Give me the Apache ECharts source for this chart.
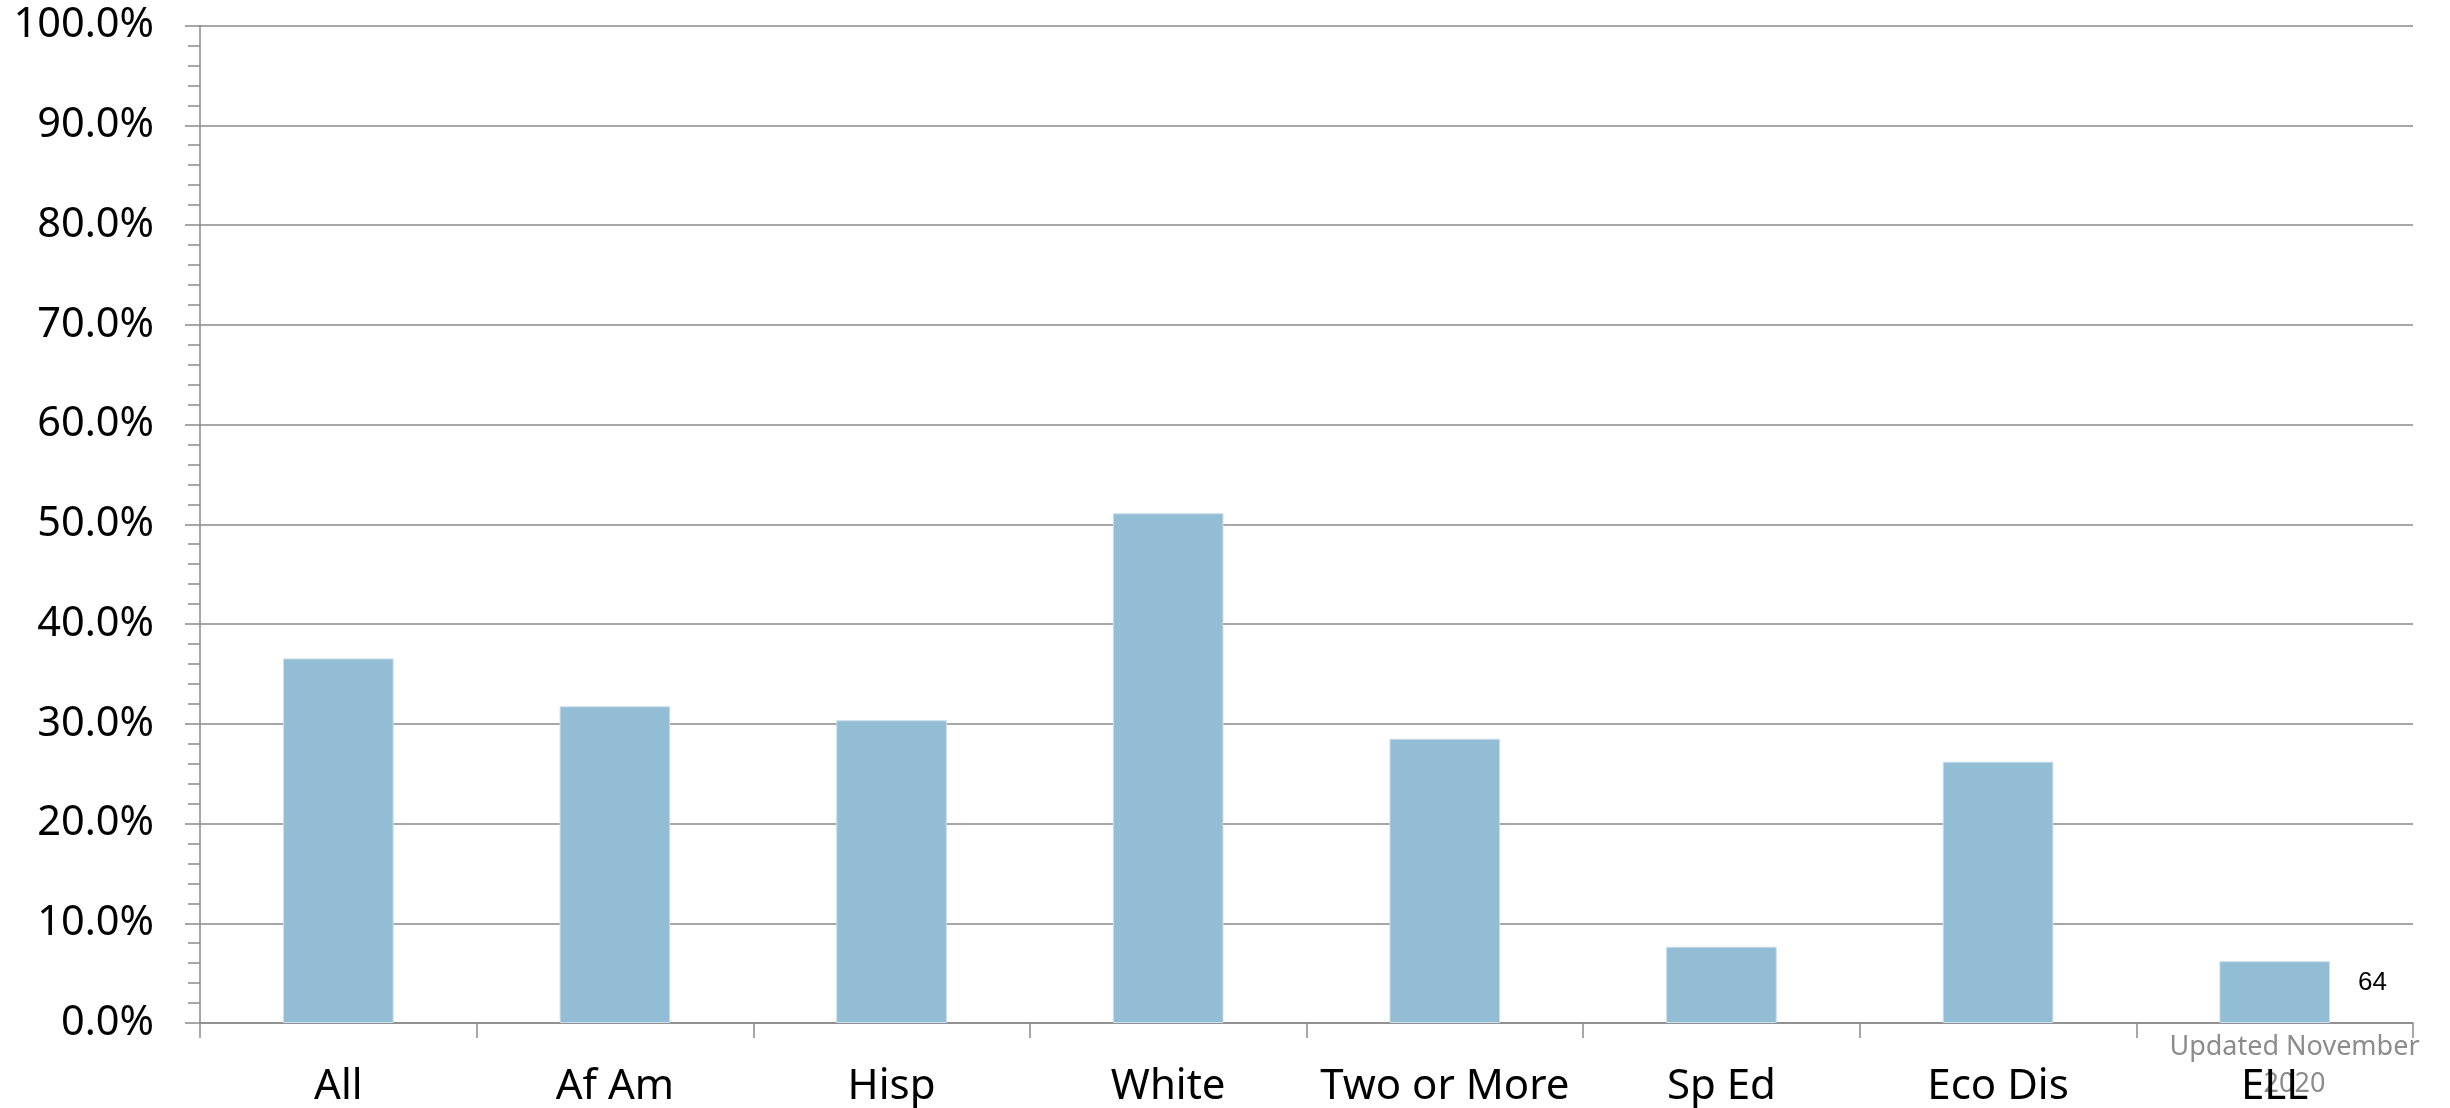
<!DOCTYPE html>
<html>
<head>
<meta charset="utf-8">
<script src="https://cdn.jsdelivr.net/npm/echarts@6/dist/echarts.min.js"></script>
<style>
html,body{margin:0;padding:0;background:#fff;}
#chart{width:2450px;height:1108px;}
</style>
</head>
<body>
<div id="chart"></div>
<script>
const categories = ['All', 'Af Am', 'Hisp', 'White', 'Two or More', 'Sp Ed', 'Eco Dis', 'ELL'];
const values = [36.55, 31.75, 30.35, 51.1, 28.5, 7.65, 26.2, 6.2];
const yTicks = { min: 0, max: 100, interval: 10 };
const pageNumber = '64';
const noteText = 'Updated November\n2020';

const chart = echarts.init(document.getElementById('chart'), null, { renderer: 'canvas' });
const axisGrey = '#8a8a8a';
chart.setOption({
  animation: false,
  backgroundColor: '#ffffff',
  grid: { left: 200, right: 37, top: 25.5, bottom: 85, containLabel: false },
  xAxis: {
    type: 'category',
    data: categories,
    boundaryGap: true,
    axisLine: { show: true, lineStyle: { color: axisGrey, width: 1.5 } },
    axisTick: { show: true, alignWithLabel: false, length: 15, inside: false, lineStyle: { color: axisGrey, width: 1.5 } },
    axisLabel: { color: '#000', fontFamily: 'Noto Sans', fontSize: 42, margin: 43, interval: 0 },
    splitLine: { show: false }
  },
  yAxis: {
    type: 'value',
    min: yTicks.min,
    max: yTicks.max,
    interval: yTicks.interval,
    axisLine: { show: true, lineStyle: { color: axisGrey, width: 1.5 } },
    axisTick: { show: true, length: 15, inside: false, lineStyle: { color: axisGrey, width: 1.5 } },
    minorTick: { show: true, splitNumber: 5, length: 12, lineStyle: { color: axisGrey, width: 1.5 } },
    axisLabel: { color: '#000', fontFamily: 'Noto Sans', fontSize: 41.5, margin: 46, formatter: v => v.toFixed(1) + '%' },
    splitLine: { show: true, lineStyle: { color: axisGrey, width: 1.5 } }
  },
  series: [{
    type: 'bar',
    data: values,
    barWidth: '40%',
    itemStyle: { color: '#93bdd5', borderColor: '#c9dfeb', borderWidth: 1 }
  }],
  graphic: [
    { type: 'text', x: 2358, y: 983, style: { text: pageNumber, fill: '#000', font: '26px "Liberation Sans"', textAlign: 'left', textVerticalAlign: 'middle' } },
    { type: 'text', left: 2168, top: 1029, style: { text: noteText, fill: '#8c8c8c', font: '27px "Noto Sans"', textAlign: 'center', lineHeight: 37, width: 253 } }
  ]
});
</script>
</body>
</html>
